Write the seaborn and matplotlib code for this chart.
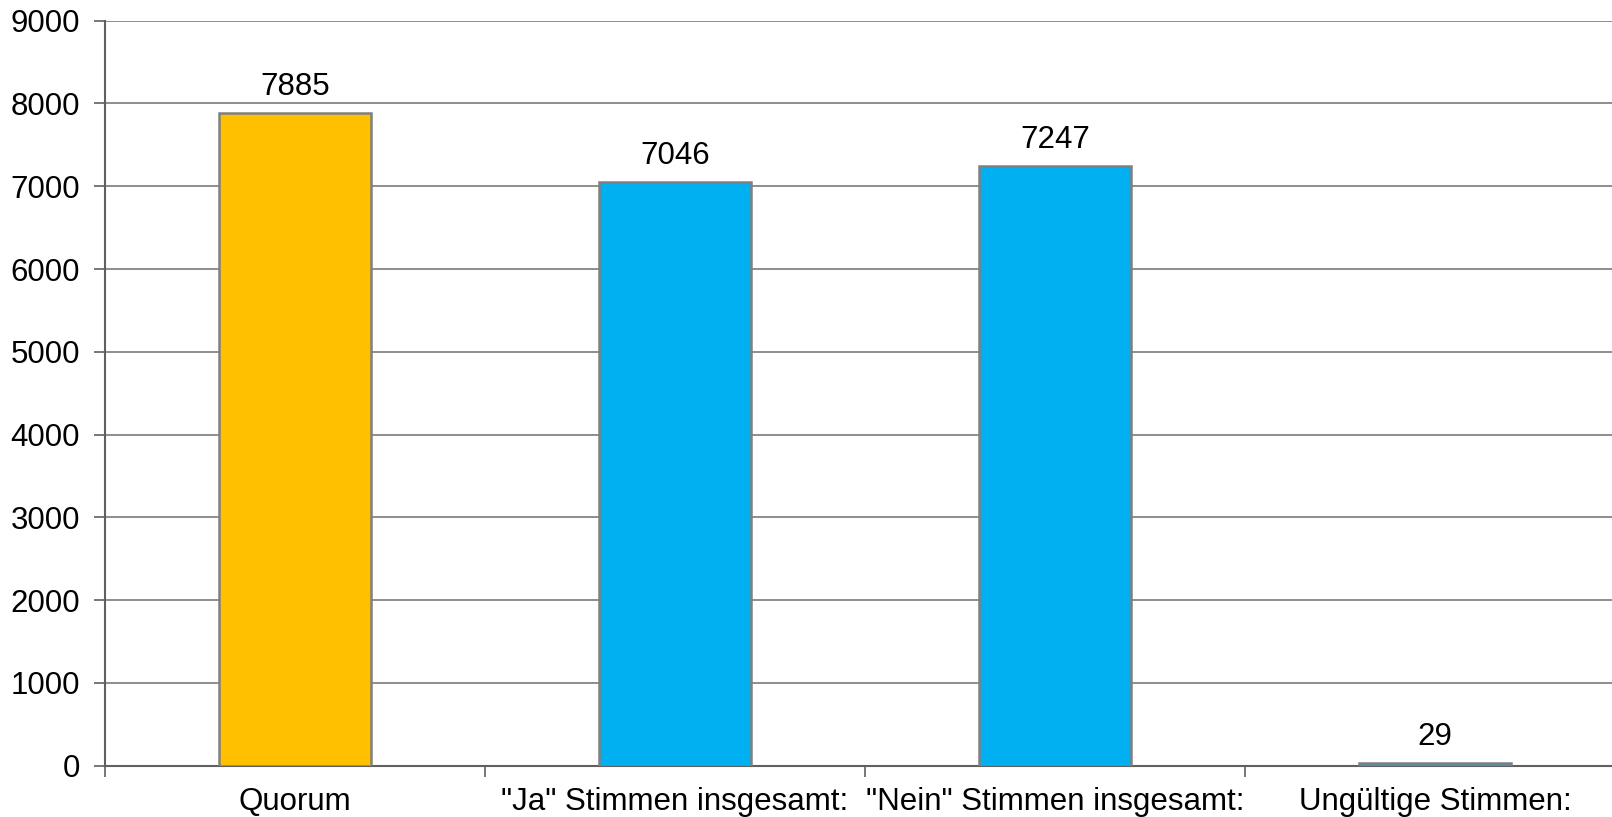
import matplotlib
matplotlib.use("Agg")
import matplotlib.pyplot as plt
import seaborn as sns
import numpy as np
import pandas as pd

### Daten
kategorien = ["Quorum", "\"Ja\" Stimmen insgesamt:", "\"Nein\" Stimmen insgesamt:", "Ungültige Stimmen:"]
stimmen = [7885, 7046, 7247, 29]
farben = ["#FFC000", "#00B0F0", "#00B0F0", "#00B0F0"]
y_ticks = [0, 1000, 2000, 3000, 4000, 5000, 6000, 7000, 8000, 9000]

df = pd.DataFrame({"kategorie": kategorien, "stimmen": stimmen})

sns.set_style("white")
plt.rcParams["font.family"] = ["Liberation Sans", "DejaVu Sans"]
plt.rcParams["text.color"] = "black"

fig = plt.figure(figsize = (16.12, 8.17), dpi = 100)
ax = fig.add_axes([105/1612, 1 - 765.7/817, (1625 - 105)/1612, (765.7 - 20.7)/817])

sns.barplot(data = df, x = "kategorie", y = "stimmen", hue = "kategorie", palette = farben,
			legend = False, width = 0.40, edgecolor = "#808080", linewidth = 1.8, saturation = 1, ax = ax, zorder = 3)

for container in ax.containers:
	ax.bar_label(container, fmt = "%d", padding = 8, fontsize = 22.5, color = "black")

ax.set_ylim(0, 9000)
ax.set_xlim(-0.5, len(kategorien) - 0.5)
ax.set_yticks(y_ticks)
ax.set_yticklabels([str(t) for t in y_ticks], fontsize = 22.5, color = "black")
ax.yaxis.grid(True, color = "#7a7a7a", linewidth = 1.2, zorder = 0)
ax.set_axisbelow(True)
ax.set_xlabel("")
ax.set_ylabel("")

# Trennstriche zwischen den Kategorien
ax.set_xticks(np.arange(len(kategorien)))
ax.set_xticklabels(kategorien, fontsize = 22.5, color = "black")
ax.set_xticks(np.arange(len(kategorien) + 1) - 0.5, minor = True)
ax.tick_params(axis = "x", which = "major", length = 0, pad = 15)
ax.tick_params(axis = "x", which = "minor", bottom = True, length = 8, width = 1.2, color = "#606060", direction = "out")
ax.tick_params(axis = "y", length = 8, width = 1.2, color = "#606060", direction = "out", pad = 10, left = True)

for s in ["top", "right"]:
	ax.spines[s].set_visible(False)
for s in ["left", "bottom"]:
	ax.spines[s].set_color("#606060")
	ax.spines[s].set_linewidth(1.5)

plt.savefig("out.png", dpi = 100)
